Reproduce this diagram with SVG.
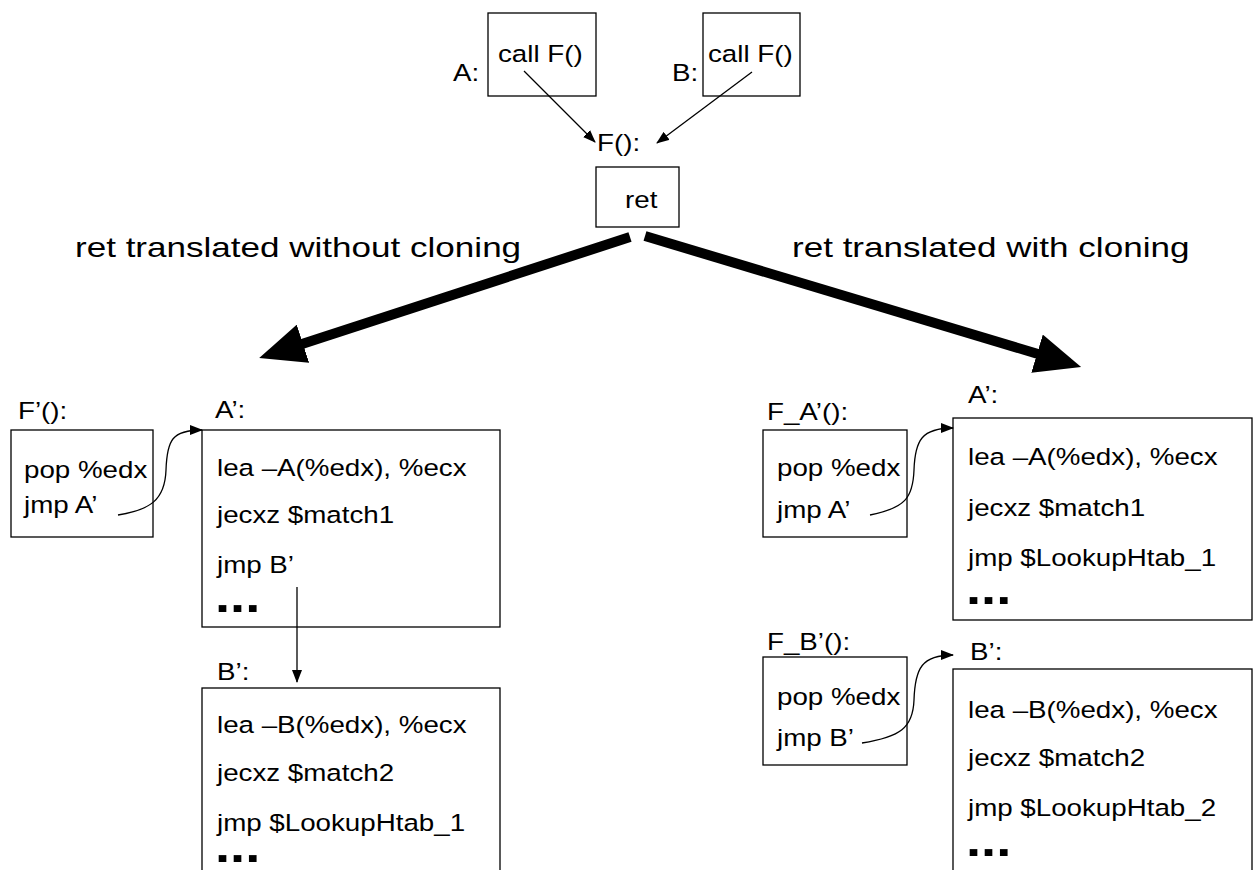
<svg xmlns="http://www.w3.org/2000/svg" width="1254" height="870" viewBox="0 0 1254 870">
  <style>
    .box { fill: #ffffff; stroke: #000000; stroke-width: 1.3; }
    .t { font-family: "Liberation Sans", Arial, sans-serif; font-size: 23.5px; fill: #000000; }
    .big { font-family: "Liberation Sans", Arial, sans-serif; font-size: 28.5px; fill: #000000; }
    .dots { font-family: "Liberation Sans", Arial, sans-serif; font-size: 46px; font-weight: bold; fill: #000000; }
    .thin { fill: none; stroke: #000000; stroke-width: 1.3; }
    .thick { fill: none; stroke: #000000; stroke-width: 10; }
  </style>
  <defs>
    <marker id="headThin" markerUnits="userSpaceOnUse" markerWidth="13" markerHeight="10" refX="12" refY="5" orient="auto">
      <path d="M0,0 L13,5 L0,10 z" fill="#000000"/>
    </marker>
    <marker id="headBig" markerUnits="userSpaceOnUse" markerWidth="46" markerHeight="40" refX="1" refY="20" orient="auto">
      <path d="M0,0 L46,20 L0,40 z" fill="#000000"/>
    </marker>
  </defs>

  <rect width="1254" height="870" fill="#ffffff"/>

  <!-- callers and the shared function -->
  <g id="callerA">
    <rect class="box" x="488" y="13" width="108" height="83"/>
    <text class="t" transform="matrix(1.18 0 0 1 453 81)">A:</text>
    <text class="t" transform="matrix(1.18 0 0 1 498 62)">call F()</text>
  </g>
  <g id="callerB">
    <rect class="box" x="703" y="13" width="97" height="83"/>
    <text class="t" transform="matrix(1.18 0 0 1 672 81)">B:</text>
    <text class="t" transform="matrix(1.18 0 0 1 708 62)">call F()</text>
  </g>
  <g id="funcF">
    <text class="t" transform="matrix(1.18 0 0 1 597 151)">F():</text>
    <rect class="box" x="596" y="167" width="83" height="60"/>
    <text class="t" transform="matrix(1.18 0 0 1 625 208)">ret</text>
  </g>

  <g id="labelNoClone">
    <text class="big" transform="matrix(1.23 0 0 1 75 257)">ret translated without cloning</text>
  </g>
  <g id="labelClone">
    <text class="big" transform="matrix(1.23 0 0 1 792 257)">ret translated with cloning</text>
  </g>

  <!-- without cloning -->
  <g id="fPrime">
    <text class="t" transform="matrix(1.18 0 0 1 18 419)">F’():</text>
    <rect class="box" x="11" y="430" width="142" height="107"/>
    <text class="t" transform="matrix(1.18 0 0 1 24 478)">pop %edx</text>
    <text class="t" transform="matrix(1.18 0 0 1 24 513)">jmp A’</text>
  </g>
  <g id="aPrimeLeft">
    <text class="t" transform="matrix(1.18 0 0 1 215 418)">A’:</text>
    <rect class="box" x="202" y="430" width="298" height="197"/>
    <text class="t" transform="matrix(1.18 0 0 1 217 476)">lea –A(%edx), %ecx</text>
    <text class="t" transform="matrix(1.18 0 0 1 217 523)">jecxz $match1</text>
    <text class="t" transform="matrix(1.18 0 0 1 217 573)">jmp B’</text>
    <text class="dots" transform="matrix(1.18 0 0 1 215 612)">...</text>
  </g>
  <g id="bPrimeLeft">
    <text class="t" transform="matrix(1.18 0 0 1 217 680)">B’:</text>
    <rect class="box" x="202" y="688" width="298" height="220"/>
    <text class="t" transform="matrix(1.18 0 0 1 217 733)">lea –B(%edx), %ecx</text>
    <text class="t" transform="matrix(1.18 0 0 1 217 781)">jecxz $match2</text>
    <text class="t" transform="matrix(1.18 0 0 1 217 831)">jmp $LookupHtab_1</text>
    <text class="dots" transform="matrix(1.18 0 0 1 215 862)">...</text>
  </g>

  <!-- with cloning -->
  <g id="fAPrime">
    <text class="t" transform="matrix(1.18 0 0 1 767 420)">F_A’():</text>
    <rect class="box" x="763" y="430" width="144" height="107"/>
    <text class="t" transform="matrix(1.18 0 0 1 777 476)">pop %edx</text>
    <text class="t" transform="matrix(1.18 0 0 1 777 518)">jmp A’</text>
  </g>
  <g id="aPrimeRight">
    <text class="t" transform="matrix(1.18 0 0 1 968 403)">A’:</text>
    <rect class="box" x="953" y="418" width="299" height="202"/>
    <text class="t" transform="matrix(1.18 0 0 1 968 465)">lea –A(%edx), %ecx</text>
    <text class="t" transform="matrix(1.18 0 0 1 968 516)">jecxz $match1</text>
    <text class="t" transform="matrix(1.18 0 0 1 968 566)">jmp $LookupHtab_1</text>
    <text class="dots" transform="matrix(1.18 0 0 1 966 604)">...</text>
  </g>
  <g id="fBPrime">
    <text class="t" transform="matrix(1.18 0 0 1 767 650)">F_B’():</text>
    <rect class="box" x="763" y="657" width="144" height="108"/>
    <text class="t" transform="matrix(1.18 0 0 1 777 705)">pop %edx</text>
    <text class="t" transform="matrix(1.18 0 0 1 777 746)">jmp B’</text>
  </g>
  <g id="bPrimeRight">
    <text class="t" transform="matrix(1.18 0 0 1 970 660)">B’:</text>
    <rect class="box" x="953" y="669" width="299" height="240"/>
    <text class="t" transform="matrix(1.18 0 0 1 968 718)">lea –B(%edx), %ecx</text>
    <text class="t" transform="matrix(1.18 0 0 1 968 766)">jecxz $match2</text>
    <text class="t" transform="matrix(1.18 0 0 1 968 816)">jmp $LookupHtab_2</text>
    <text class="dots" transform="matrix(1.18 0 0 1 966 856)">...</text>
  </g>

  <!-- connectors -->
  <g id="connectors">
    <line class="thin" x1="524" y1="71" x2="595" y2="142" marker-end="url(#headThin)"/>
    <line class="thin" x1="752" y1="72" x2="657" y2="143" marker-end="url(#headThin)"/>
    <line class="thick" x1="630" y1="237" x2="302" y2="344" marker-end="url(#headBig)"/>
    <line class="thick" x1="645" y1="236" x2="1038" y2="354" marker-end="url(#headBig)"/>
    <path class="thin" d="M118,515 C150,510 165,500 166,470 C167,440 172,430 202,430" marker-end="url(#headThin)"/>
    <line class="thin" x1="297" y1="587" x2="297" y2="682" marker-end="url(#headThin)"/>
    <path class="thin" d="M870,515 C905,508 913,498 914,470 C915,440 922,428 953,428" marker-end="url(#headThin)"/>
    <path class="thin" d="M862,743 C900,737 913,728 914,700 C915,668 922,655 953,655" marker-end="url(#headThin)"/>
  </g>
</svg>
